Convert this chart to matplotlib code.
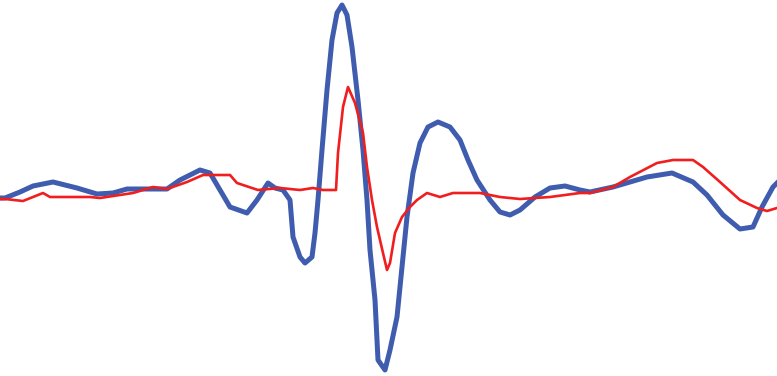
import matplotlib
matplotlib.use("Agg")
import matplotlib.pyplot as plt
import numpy as np

# Two overlaid waveforms (reference vs. response), amplitude in arbitrary units
blue_t = [0, 5, 20, 33, 53, 77, 97, 113, 127, 150, 167, 180, 200, 210, 220, 230, 247, 257,
          268, 275, 283, 290, 293, 300, 305, 312, 315, 318, 322, 327, 332, 337, 342, 347,
          352, 358, 363, 367, 370, 375, 378, 385, 390, 397, 402, 407, 413, 420, 428, 438,
          450, 460, 468, 477, 490, 500, 510, 520, 535, 550, 565, 580, 590, 613, 647, 672,
          693, 707, 723, 740, 753, 762, 773, 777]
blue_v = [-0.08, -0.08, -0.02, 0.04, 0.08, 0.02, -0.04, -0.03, 0.01, 0.01, 0.01, 0.10, 0.20,
          0.17, 0.00, -0.17, -0.23, -0.10, 0.07, 0.02, 0.00, -0.10, -0.47, -0.67, -0.73,
          -0.67, -0.43, -0.10, 0.40, 1.00, 1.50, 1.77, 1.85, 1.75, 1.43, 0.90, 0.40, -0.10,
          -0.60, -1.10, -1.70, -1.80, -1.60, -1.27, -0.77, -0.27, 0.17, 0.47, 0.63, 0.68,
          0.63, 0.50, 0.30, 0.10, -0.10, -0.22, -0.25, -0.20, -0.07, 0.02, 0.04, 0.00,
          -0.02, 0.03, 0.13, 0.17, 0.08, -0.05, -0.25, -0.39, -0.37, -0.17, 0.03, 0.07]

red_t = [0, 5, 23, 43, 50, 90, 100, 133, 153, 167, 187, 203, 213, 230, 237, 258, 280, 300,
         313, 323, 336, 338, 343, 348, 355, 363, 367, 372, 377, 383, 387, 390, 395, 402,
         410, 417, 427, 440, 453, 480, 500, 520, 550, 580, 590, 613, 630, 657, 673, 693,
         703, 720, 740, 757, 767, 777]
red_v = [-0.09, -0.09, -0.11, -0.03, -0.07, -0.07, -0.08, -0.03, 0.03, 0.01, 0.08, 0.15,
         0.15, 0.15, 0.07, 0.00, 0.02, 0.00, 0.02, 0.00, 0.00, 0.37, 0.83, 1.03, 0.87,
         0.57, 0.23, -0.10, -0.37, -0.63, -0.80, -0.73, -0.43, -0.27, -0.17, -0.10, -0.03,
         -0.07, -0.03, -0.03, -0.07, -0.09, -0.07, -0.03, -0.03, 0.03, 0.13, 0.27, 0.30,
         0.30, 0.23, 0.08, -0.10, -0.18, -0.21, -0.18]

fig = plt.figure(figsize=(7.77, 3.76), dpi=100)
ax = fig.add_axes([0, 0, 1, 1])

ax.plot(blue_t, blue_v, color="#3f5cae", lw=3.6)
ax.plot(red_t, red_v, color="#f01e1e", lw=1.9)

ax.set_xlim(0, 777)
ax.set_ylim(-1.86, 1.90)
ax.axis("off")

fig.savefig("out.png", dpi=100, facecolor="white")
